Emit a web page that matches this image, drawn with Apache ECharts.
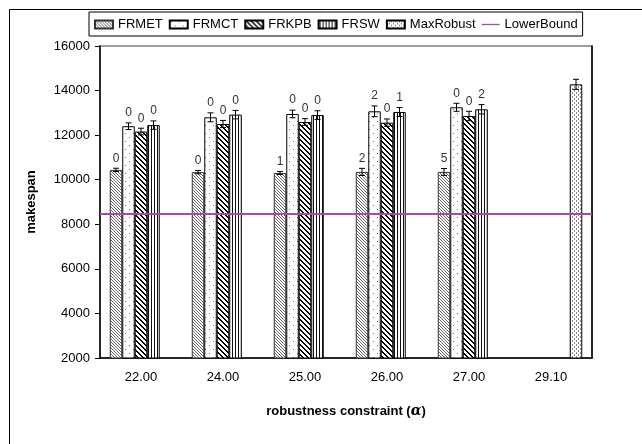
<!DOCTYPE html>
<html><head><meta charset="utf-8">
<script src="https://cdn.jsdelivr.net/npm/echarts@6/dist/echarts.min.js"></script>
<style>html,body{margin:0;padding:0;background:#fff}#c{width:642px;height:444px}</style>
</head><body><div id="c"></div>
<script>
// ---- data ----
const categories = ['22.00', '24.00', '25.00', '26.00', '27.00', '29.10'];
const frmet     = [10440, 10340, 10300, 10350, 10350, null];
const frmct     = [12400, 12800, 12950, 13070, 13250, null];
const frkpb     = [12160, 12500, 12590, 12560, 12860, null];
const frsw      = [12450, 12920, 12900, 13040, 13160, null];
const maxRobust = [null, null, null, null, null, 14280];
const frmetErr     = [75, 75, 65, 160, 155, null];
const frmctErr     = [150, 200, 170, 240, 180, null];
const frkpbErr     = [150, 160, 150, 165, 210, null];
const frswErr      = [190, 190, 195, 200, 210, null];
const maxRobustErr = [null, null, null, null, null, 225];
const frmetCnt = ['0', '0', '1', '2', '5', ''];
const frmctCnt = ['0', '0', '0', '2', '0', ''];
const frkpbCnt = ['0', '0', '0', '0', '0', ''];
const frswCnt  = ['0', '0', '0', '1', '2', ''];
const maxRobustCnt = ['', '', '', '', '', ''];
const lowerBound = 8460;
const yMin = 2000, yMax = 16000, yStep = 2000;

// ---- patterns ----
function pat(w, h, draw) {
  const c = document.createElement('canvas');
  c.width = w; c.height = h;
  const g = c.getContext('2d');
  g.fillStyle = '#fff'; g.fillRect(0, 0, w, h);
  draw(g);
  return { image: c, repeat: 'repeat' };
}
function px(g, col, pts) { g.fillStyle = col; pts.forEach(p => g.fillRect(p[0], p[1], 1, 1)); }
const pFRMET = pat(3, 3, g => px(g, '#666', [[0,0],[1,1],[2,2]]));
const pFRMCT = pat(8, 8, g => px(g, '#777', [[1,1],[5,5]]));
const pFRKPB = pat(5, 5, g => { const a=[]; for (let y=0;y<5;y++){a.push([y%5,y]);a.push([(y+1)%5,y]);} px(g, '#000', a); });
const pFRSW  = pat(3, 1, g => px(g, '#111', [[1,0]]));
const pMax   = pat(4, 4, g => px(g, '#888', [[0,0],[0,1],[2,2],[2,3]]));

const BAR_W = 12.5;
const FONT = 'Liberation Sans';

function barSeries(name, data, color, border) {
  return {
    type: 'bar', name, data, barWidth: BAR_W, barGap: '0%',
    itemStyle: { color, borderColor: border, borderWidth: 1 },
    emphasis: { disabled: true }
  };
}
function errSeries(vals, errs, cnts, idx) {
  const data = [];
  vals.forEach((v, i) => { if (v != null) data.push([i, v, errs[i]]); });
  return {
    type: 'custom', silent: true, z: 10, data,
    renderItem: (params, api) => {
      const ci = api.value(0), v = api.value(1), e = api.value(2);
      const cx = api.coord([ci, v])[0] + (idx - 2) * BAR_W;
      const top = api.coord([ci, v + e])[1];
      const bot = api.coord([ci, v - e])[1];
      const cap = 3;
      const st = { stroke: '#000', lineWidth: 1 };
      const children = [
        { type: 'line', shape: { x1: cx, y1: top, x2: cx, y2: bot }, style: st },
        { type: 'line', shape: { x1: cx - cap, y1: top, x2: cx + cap, y2: top }, style: st },
        { type: 'line', shape: { x1: cx - cap, y1: bot, x2: cx + cap, y2: bot }, style: st }
      ];
      const t = cnts[ci];
      if (t) children.push({ type: 'text', style: { text: t, x: cx, y: top - 4, align: 'center', verticalAlign: 'bottom', font: '12px ' + FONT, fill: '#333' } });
      return { type: 'group', children };
    }
  };
}

const chart = echarts.init(document.getElementById('c'), null, { renderer: 'canvas' });
chart.setOption({
  animation: false,
  backgroundColor: '#fff',
  textStyle: { fontFamily: FONT },
  graphic: [{ type: 'rect', left: 7, top: 7, shape: { width: 700, height: 500 }, style: { fill: 'none', stroke: '#000', lineWidth: 1 }, silent: true }],
  grid: { left: 100, right: 50, top: 46, bottom: 86, show: true, borderColor: '#808080', borderWidth: 1.5 },
  legend: {
    top: 12, left: 89,
    data: [
      { name: 'FRMET', icon: 'rect' }, { name: 'FRMCT', icon: 'rect' }, { name: 'FRKPB', icon: 'rect' },
      { name: 'FRSW', icon: 'rect' }, { name: 'MaxRobust', icon: 'rect' },
      { name: 'LowerBound', icon: 'path://M0,0 L20,0 L20,1.5 L0,1.5 Z' }
    ],
    itemWidth: 18, itemHeight: 8, itemGap: 6,
    padding: [6, 5, 5, 5],
    borderColor: '#000', borderWidth: 1,
    textStyle: { fontSize: 13, color: '#000', fontFamily: FONT }
  },
  xAxis: {
    type: 'category', data: categories,
    axisLine: { lineStyle: { color: '#000', width: 1.5 } },
    axisTick: { show: false },
    axisLabel: { fontSize: 13, color: '#000', margin: 13 },
    name: 'robustness constraint ({a|α})', nameLocation: 'middle', nameGap: 46,
    nameTextStyle: { fontSize: 13, fontWeight: 'bold', color: '#000', rich: { a: { fontSize: 14, fontWeight: 'bold', fontStyle: 'italic', fontFamily: 'DejaVu Serif', color: '#000' } } }
  },
  yAxis: [{
    type: 'value', min: yMin, max: yMax, interval: yStep,
    axisLine: { show: true, lineStyle: { color: '#000', width: 1.5 } },
    axisTick: { show: true, length: 5, lineStyle: { color: '#000' } },
    splitLine: { show: false },
    axisLabel: { fontSize: 13, color: '#000', margin: 10, formatter: v => String(v) },
    name: 'makespan', nameLocation: 'middle', nameGap: 62,
    nameTextStyle: { fontSize: 13, fontWeight: 'bold', color: '#000' }
  }, {
    type: 'value', min: yMin, max: yMax, interval: yStep, position: 'right',
    axisLine: { show: true, lineStyle: { color: '#000', width: 1.5 } },
    axisTick: { show: false }, axisLabel: { show: false }, splitLine: { show: false }
  }],
  series: [
    barSeries('FRMET', frmet, pFRMET, '#333'),
    barSeries('FRMCT', frmct, pFRMCT, '#000'),
    barSeries('FRKPB', frkpb, pFRKPB, '#000'),
    barSeries('FRSW', frsw, pFRSW, '#000'),
    barSeries('MaxRobust', maxRobust, pMax, '#000'),
    {
      type: 'line', name: 'LowerBound', data: [], color: '#a64ca6',
      markLine: { silent: true, symbol: 'none', label: { show: false }, lineStyle: { color: '#a64ca6', width: 2, type: 'solid' }, data: [{ yAxis: lowerBound }] }
    },
    errSeries(frmet, frmetErr, frmetCnt, 0),
    errSeries(frmct, frmctErr, frmctCnt, 1),
    errSeries(frkpb, frkpbErr, frkpbCnt, 2),
    errSeries(frsw, frswErr, frswCnt, 3),
    errSeries(maxRobust, maxRobustErr, maxRobustCnt, 4)
  ]
});
</script></body></html>
